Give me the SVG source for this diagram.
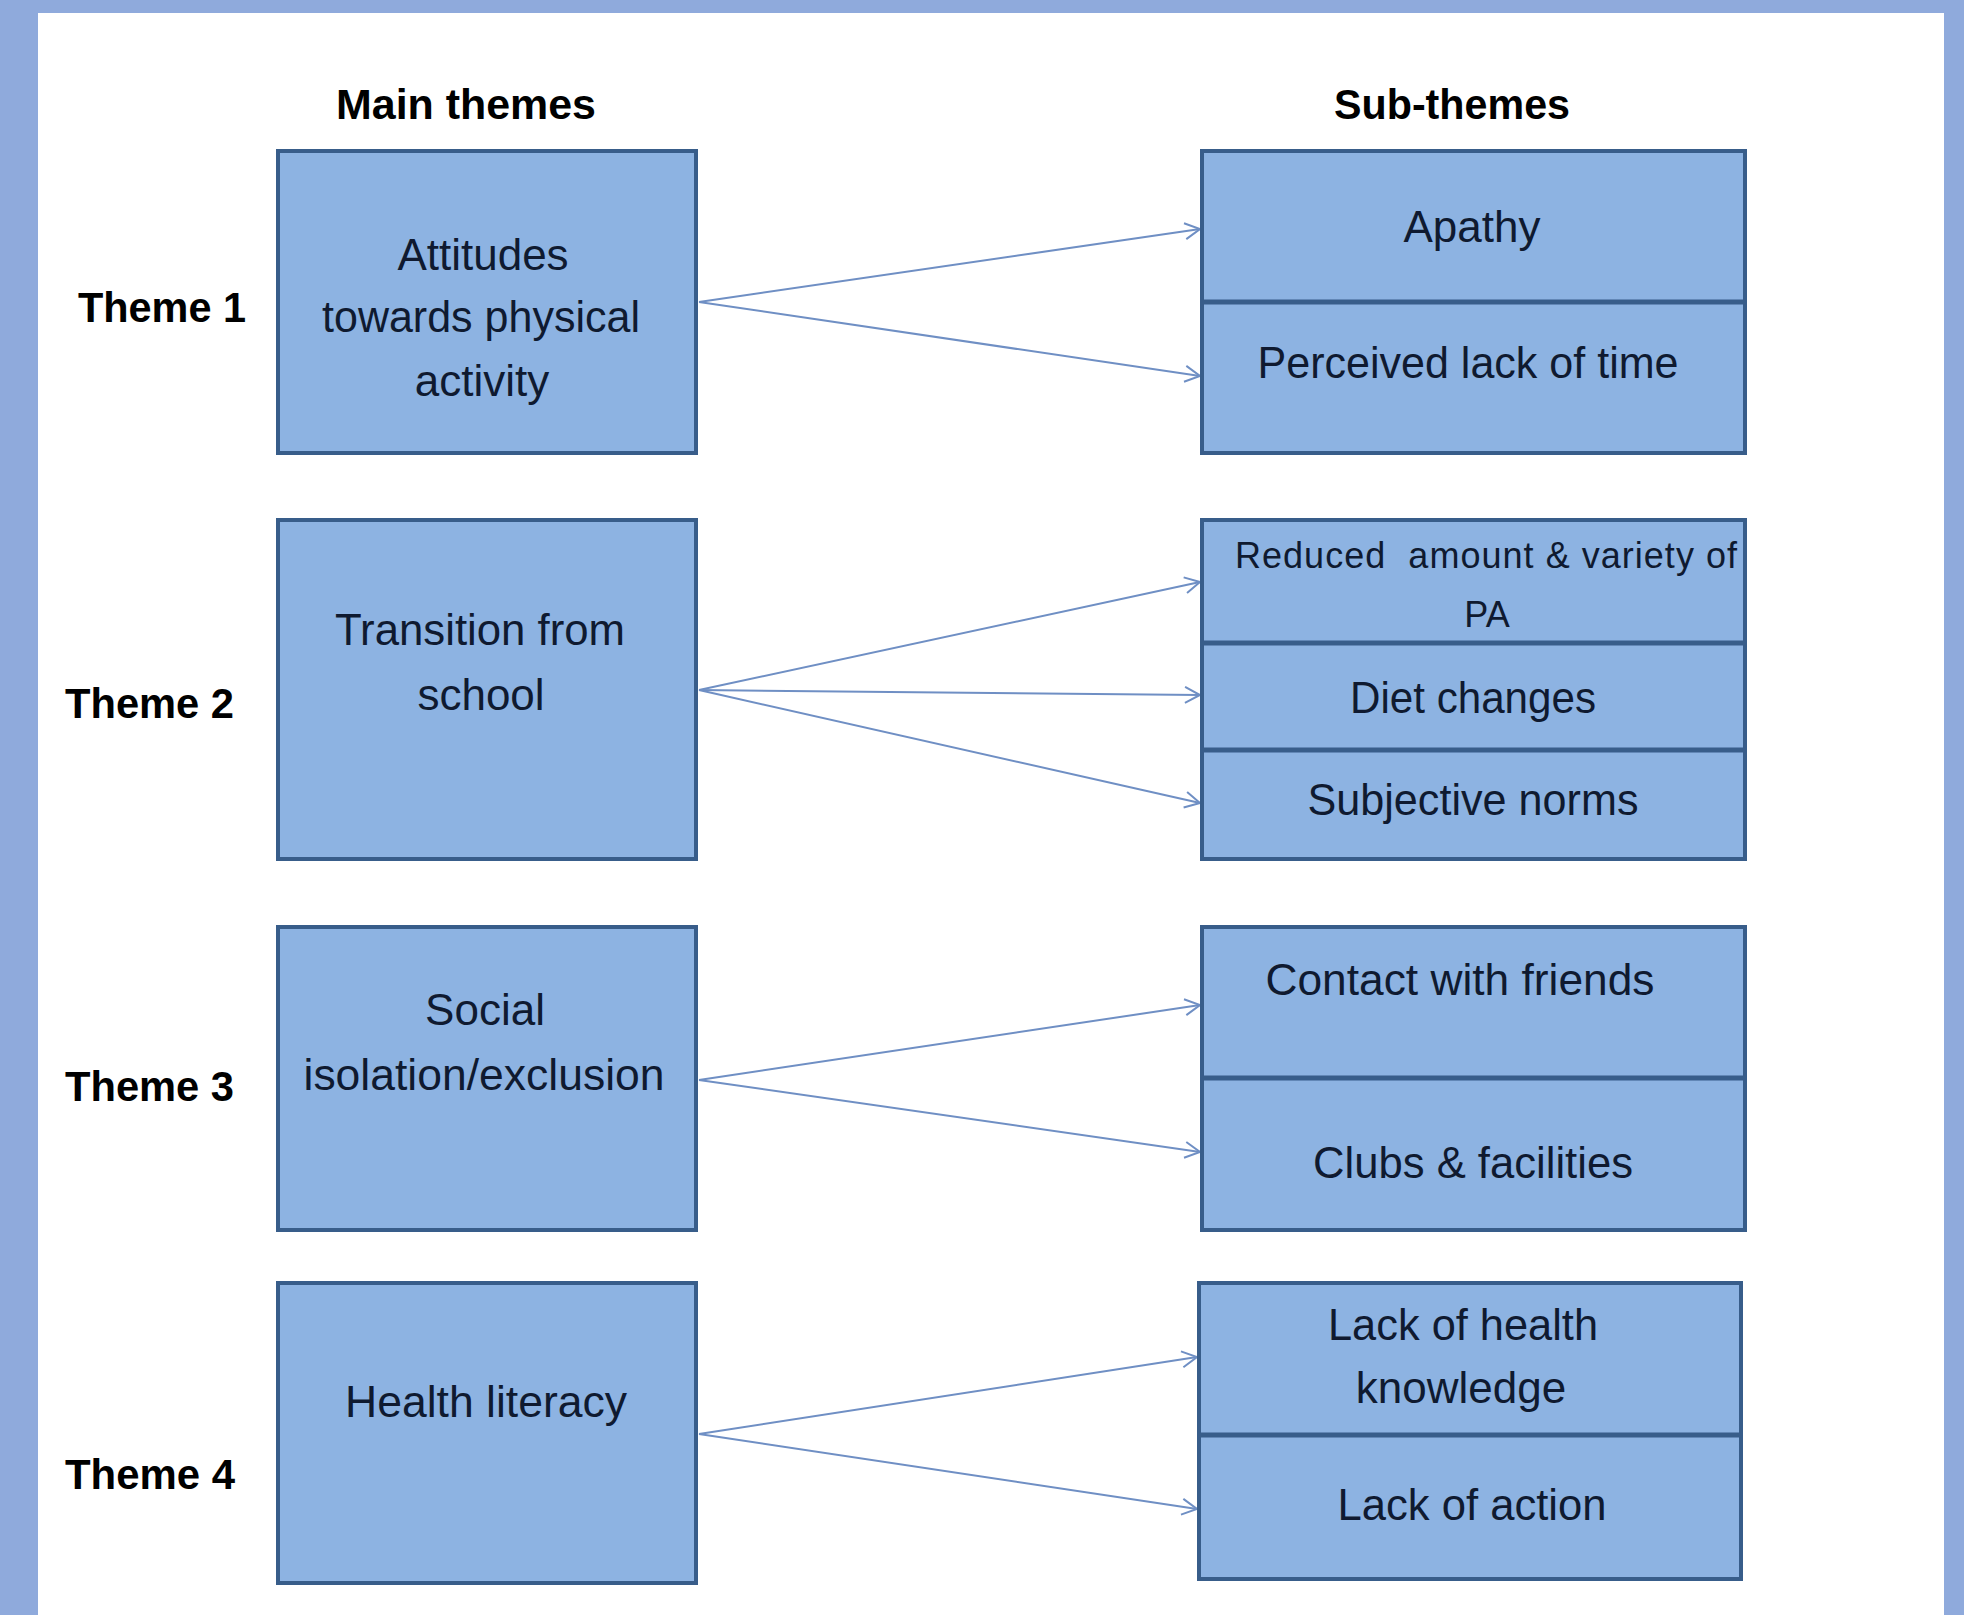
<svg xmlns="http://www.w3.org/2000/svg" width="1964" height="1615" viewBox="0 0 1964 1615">
<style>
.box{fill:#8DB3E2;stroke:#385D8A;stroke-width:4}
.div{stroke:#385D8A;stroke-width:5}
.hdr{font-family:"Liberation Sans",Arial,sans-serif;font-weight:bold;font-size:42px;fill:#000}
.t{font-family:"Liberation Sans",Arial,sans-serif;font-size:44px;fill:#0F1A30;text-anchor:middle}
.ts{font-family:"Liberation Sans",Arial,sans-serif;font-size:36px;fill:#0F1A30}
.con{stroke:#6F8FC4;stroke-width:2;fill:none;marker-end:url(#arr)}
</style>
<defs>
<marker id="arr" markerUnits="userSpaceOnUse" markerWidth="20" markerHeight="20" refX="16" refY="9" orient="auto">
<path d="M1,1 L16,9 L1,17" fill="none" stroke="#6F8FC4" stroke-width="2"/>
</marker>
</defs>
<rect x="0" y="0" width="1964" height="1615" fill="#8FAADC"/>
<rect x="38" y="13" width="1906" height="1602" fill="#FFFFFF"/>

<g id="headers">
<text class="hdr" x="336" y="119" textLength="260" lengthAdjust="spacingAndGlyphs">Main themes</text>
<text class="hdr" x="1334" y="119" textLength="236" lengthAdjust="spacingAndGlyphs">Sub-themes</text>
</g>

<g id="theme-labels">
<text class="hdr" x="78" y="322" textLength="168" lengthAdjust="spacingAndGlyphs">Theme 1</text>
<text class="hdr" x="65" y="718" textLength="169" lengthAdjust="spacingAndGlyphs">Theme 2</text>
<text class="hdr" x="65" y="1101" textLength="169" lengthAdjust="spacingAndGlyphs">Theme 3</text>
<text class="hdr" x="65" y="1489" textLength="170" lengthAdjust="spacingAndGlyphs">Theme 4</text>
</g>

<g id="connectors">
<line class="con" x1="699" y1="302" x2="1200" y2="229"/>
<line class="con" x1="699" y1="302" x2="1200" y2="376"/>
<line class="con" x1="699" y1="690" x2="1200" y2="582"/>
<line class="con" x1="699" y1="690" x2="1200" y2="695"/>
<line class="con" x1="699" y1="690" x2="1200" y2="803"/>
<line class="con" x1="699" y1="1080" x2="1200" y2="1005"/>
<line class="con" x1="699" y1="1080" x2="1200" y2="1152"/>
<line class="con" x1="699" y1="1434" x2="1197" y2="1357"/>
<line class="con" x1="699" y1="1434" x2="1197" y2="1509"/>
</g>

<g id="main1">
<rect class="box" x="278" y="151" width="418" height="302"/>
<text class="t" x="483" y="270">Attitudes</text>
<text class="t" x="481" y="332" textLength="318" lengthAdjust="spacingAndGlyphs">towards physical</text>
<text class="t" x="482" y="396">activity</text>
</g>

<g id="main2">
<rect class="box" x="278" y="520" width="418" height="339"/>
<text class="t" x="480" y="645" textLength="290" lengthAdjust="spacingAndGlyphs">Transition from</text>
<text class="t" x="481" y="710">school</text>
</g>

<g id="main3">
<rect class="box" x="278" y="927" width="418" height="303"/>
<text class="t" x="485" y="1025">Social</text>
<text class="t" x="484" y="1090" textLength="361" lengthAdjust="spacingAndGlyphs">isolation/exclusion</text>
</g>

<g id="main4">
<rect class="box" x="278" y="1283" width="418" height="300"/>
<text class="t" x="486" y="1417" textLength="282" lengthAdjust="spacingAndGlyphs">Health literacy</text>
</g>

<g id="sub1">
<rect class="box" x="1202" y="151" width="543" height="302"/>
<line class="div" x1="1202" y1="302" x2="1745" y2="302"/>
<text class="t" x="1472" y="242">Apathy</text>
<text class="t" x="1468" y="378" textLength="421" lengthAdjust="spacingAndGlyphs">Perceived lack of time</text>
</g>

<g id="sub2">
<rect class="box" x="1202" y="520" width="543" height="339"/>
<line class="div" x1="1202" y1="643" x2="1745" y2="643"/>
<line class="div" x1="1202" y1="750" x2="1745" y2="750"/>
<text class="ts" x="1235" y="568" textLength="502" lengthAdjust="spacing" xml:space="preserve">Reduced  amount &amp; variety of</text>
<text class="ts" x="1487" y="627" text-anchor="middle">PA</text>
<text class="t" x="1473" y="713" textLength="246" lengthAdjust="spacingAndGlyphs">Diet changes</text>
<text class="t" x="1473" y="815" textLength="331" lengthAdjust="spacingAndGlyphs">Subjective norms</text>
</g>

<g id="sub3">
<rect class="box" x="1202" y="927" width="543" height="303"/>
<line class="div" x1="1202" y1="1078" x2="1745" y2="1078"/>
<text class="t" x="1460" y="995" textLength="389" lengthAdjust="spacingAndGlyphs">Contact with friends</text>
<text class="t" x="1473" y="1178" textLength="320" lengthAdjust="spacingAndGlyphs">Clubs &amp; facilities</text>
</g>

<g id="sub4">
<rect class="box" x="1199" y="1283" width="542" height="296"/>
<line class="div" x1="1199" y1="1435" x2="1741" y2="1435"/>
<text class="t" x="1463" y="1340" textLength="270" lengthAdjust="spacingAndGlyphs">Lack of health</text>
<text class="t" x="1461" y="1403">knowledge</text>
<text class="t" x="1472" y="1520" textLength="269" lengthAdjust="spacingAndGlyphs">Lack of action</text>
</g>
</svg>
